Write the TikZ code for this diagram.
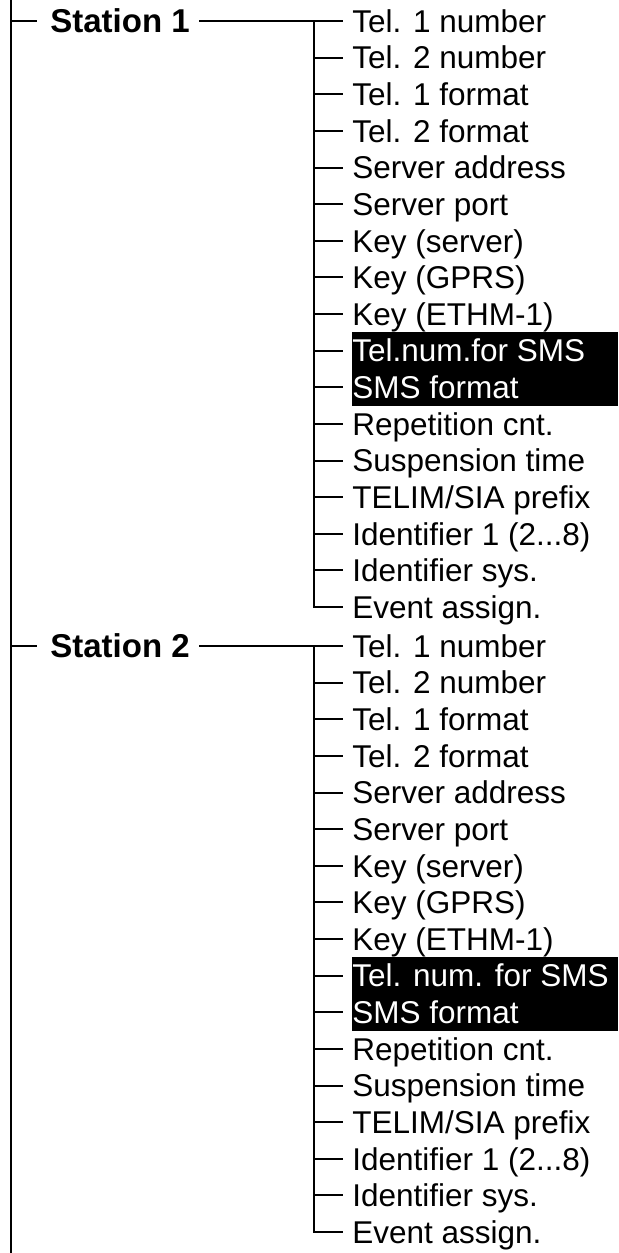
\documentclass[tikz,border=0pt]{standalone}
\usepackage{fontspec}
\setmainfont{Liberation Sans}
\newcommand\threedots{...}
\tikzset{
  ln/.style={line width=1pt, line join=miter},
  stn/.style={anchor=west, inner xsep=3.25pt, inner ysep=0pt,
    font=\fontsize{16.5}{18}\bfseries\selectfont, text height=11.8pt, text depth=0pt},
  itm/.style={anchor=west, inner xsep=4.5pt, inner ysep=0pt,
    font=\fontsize{15.75}{18}\selectfont, text height=11.3pt, text depth=0pt},
  hibox/.style={fill=black}
}
\newcommand\stationblock[4]{%
  \node[stn] (#1) at (43.5,#2) {#3};
  \coordinate (#1L) at (11,#2);
  \draw[ln] (#1L) -- ([xshift=-3.25pt]#1.west);
  \fill[hibox] (352,{#2+9*36.625-18.3125}) rectangle (618,{#2+10*36.625+18.3125});
  \foreach \t [count=\k] in {Tel. 1 number,Tel. 2 number,Tel. 1 format,Tel. 2 format,
      Server address,Server port,Key (server),Key (GPRS),Key (ETHM-1),#4,SMS format,
      Repetition cnt.,Suspension time,TELIM/SIA prefix,{Identifier 1 (2\threedots 8)},
      Identifier sys.,Event assign.}{%
    \pgfmathsetmacro\yy{#2+(\k-1)*36.625}
    \def\col{black}%
    \ifnum\k=10 \def\col{white}\fi
    \ifnum\k=11 \def\col{white}\fi
    \coordinate (#1j\k) at (314,\yy);
    \node[itm, text=\col] (#1i\k) at (343,\yy) {\t};
  }
  \draw[ln] ([xshift=1.25pt]#1.east) -- (#1i1.west);
  \draw[ln] (#1j1) -- (#1j17) -- (#1i17.west);
  \foreach \k in {2,...,16}{\draw[ln] (#1j\k) -- (#1i\k.west);}
}
\begin{document}
\begin{tikzpicture}[x=0.5pt,y=-0.5pt]
  \useasboundingbox (0,0) rectangle (618,1253);
  \coordinate (top) at (11,0);
  \coordinate (bot) at (11,1253);
  \draw[ln] (top) -- (bot);
  \stationblock{sa}{21}{Station 1}{Tel.num.for SMS}
  \stationblock{sb}{646}{Station 2}{Tel. num. for SMS}
\end{tikzpicture}
\end{document}
